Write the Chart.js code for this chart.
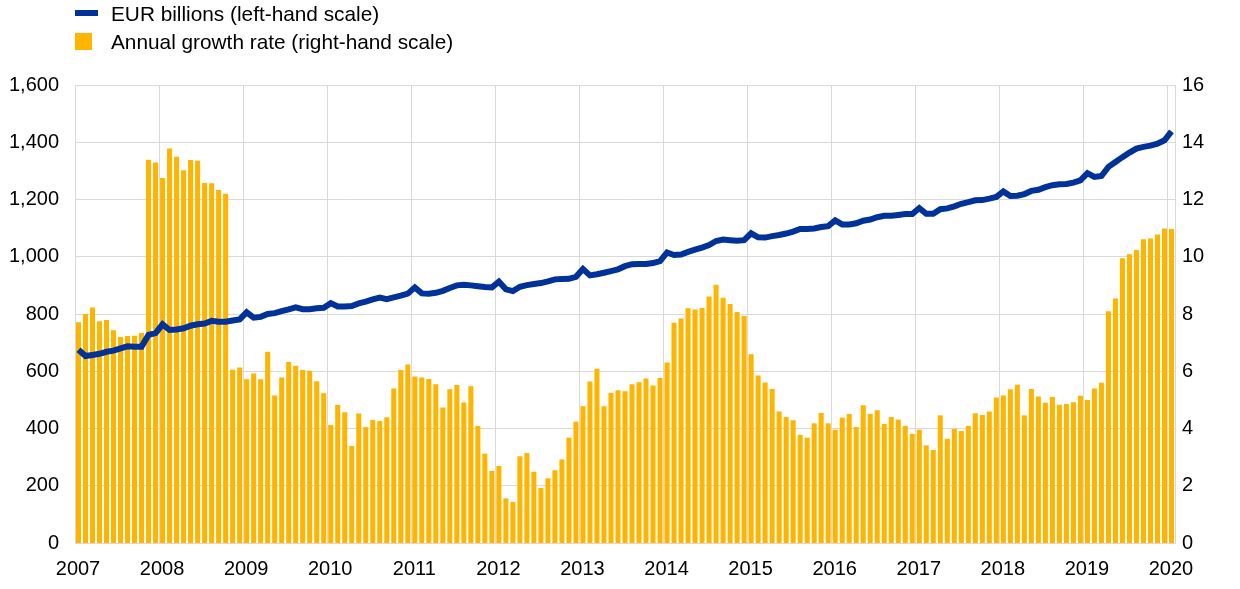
<!DOCTYPE html>
<html lang="en">
<head>
    <meta charset="UTF-8">
    <title>EUR billions and annual growth rate</title>
    <script src="https://cdn.jsdelivr.net/npm/chart.js"></script>
    <style>
        body { margin: 0; background: #fff; }
        .wrap { position: relative; width: 1240px; height: 589px; font-family: Arial, "Liberation Sans", sans-serif; }
        .legend { position: absolute; left: 75px; top: 0; font-size: 20.8px; color: #000; }
        .legend div { position: relative; height: 28px; line-height: 27px; padding-left: 36px; }
        .legend .line-key { position: absolute; left: 0; top: 10px; width: 23px; height: 6px; background: #003299; }
        .legend .box-key { position: absolute; left: 0; top: 5px; width: 17px; height: 17px; background: #ffb400; }
        canvas { position: absolute; left: 0; top: 0; }
    </style>
</head>
<body>
<div class="wrap">
    <canvas id="chart" width="1240" height="589"></canvas>
    <div class="legend">
        <div><span class="line-key"></span>EUR billions (left-hand scale)</div>
        <div><span class="box-key"></span>Annual growth rate (right-hand scale)</div>
    </div>
</div>

<script>
    // monthly observations Jan 2007 - Jan 2020
    const months = [];
    for (let y = 2007; y <= 2019; y++) {
        for (let m = 1; m <= 12; m++) months.push(y + '-' + String(m).padStart(2, '0'));
    }
    months.push('2020-01');

    const yearLabels = ['2007', '2008', '2009', '2010', '2011', '2012', '2013',
                        '2014', '2015', '2016', '2017', '2018', '2019', '2020'];

    // EUR billions (left-hand scale)
    const eurBillions = [
        675, 653, 657, 661, 668, 672, 680, 687, 686, 686, 727, 733,
        764, 744, 746, 750, 759, 764, 767, 776, 773, 773, 777, 781,
        806, 787, 790, 800, 803, 810, 816, 823, 817, 817, 820, 822,
        838, 826, 826, 828, 837, 843, 851, 857, 852, 858, 864, 871,
        893, 872, 871, 874, 881, 891, 900, 902, 900, 897, 894, 893,
        913, 886, 880, 895, 901, 905, 908, 914, 921, 922, 923, 930,
        957, 935, 939, 944, 950, 956, 967, 974, 975, 975, 978, 985,
        1015, 1006, 1008, 1017, 1025, 1032, 1041, 1055, 1060, 1058, 1056, 1058,
        1082, 1068, 1067, 1072, 1076, 1081, 1088, 1097, 1097, 1099, 1104, 1107,
        1127, 1113, 1113, 1117, 1126, 1130, 1138, 1143, 1143, 1146, 1149, 1149,
        1170, 1150, 1150, 1166, 1169, 1176, 1185, 1191, 1197, 1198, 1203, 1209,
        1228, 1212, 1213, 1219, 1230, 1234, 1243, 1250, 1253, 1254, 1259, 1267,
        1292, 1279, 1282, 1314, 1331, 1348, 1364, 1378, 1384, 1388, 1395, 1407,
        1438
    ];

    // annual growth rate, % (right-hand scale)
    const growthRate = [
        7.71, 8.00, 8.23, 7.75, 7.79, 7.43, 7.20, 7.23, 7.24, 7.34, 13.39, 13.29,
        12.75, 13.78, 13.49, 13.02, 13.38, 13.35, 12.58, 12.57, 12.33, 12.20, 6.05, 6.13,
        5.72, 5.92, 5.72, 6.68, 5.15, 5.78, 6.32, 6.19, 6.04, 6.02, 5.65, 5.23,
        4.12, 4.82, 4.57, 3.39, 4.52, 4.05, 4.30, 4.26, 4.39, 5.40, 6.04, 6.24,
        5.82, 5.78, 5.73, 5.55, 4.73, 5.37, 5.52, 4.91, 5.48, 4.09, 3.12, 2.52,
        2.69, 1.56, 1.43, 3.03, 3.14, 2.49, 1.92, 2.26, 2.54, 2.92, 3.68, 4.24,
        4.78, 5.64, 6.09, 4.78, 5.25, 5.34, 5.30, 5.55, 5.62, 5.75, 5.50, 5.76,
        6.31, 7.69, 7.84, 8.20, 8.16, 8.21, 8.61, 9.02, 8.57, 8.35, 8.07, 7.93,
        6.59, 5.85, 5.61, 5.38, 4.59, 4.40, 4.29, 3.78, 3.68, 4.18, 4.54, 4.18,
        3.96, 4.38, 4.51, 4.05, 4.81, 4.51, 4.64, 4.16, 4.40, 4.31, 4.09, 3.81,
        3.96, 3.41, 3.25, 4.46, 3.64, 3.99, 3.91, 4.09, 4.53, 4.47, 4.59, 5.08,
        5.15, 5.37, 5.53, 4.46, 5.38, 5.12, 4.90, 5.10, 4.83, 4.86, 4.92, 5.14,
        5.00, 5.40, 5.60, 8.10, 8.54, 9.95, 10.09, 10.24, 10.61, 10.64, 10.78, 10.99,
        10.97
    ];

    const gridColor = '#d9d9d9';
    const tickFont = { family: 'Arial, "Liberation Sans", sans-serif', size: 20 };

    new Chart(document.getElementById('chart'), {
        data: {
            labels: months,
            datasets: [{
                type: 'line',
                label: 'EUR billions (left-hand scale)',
                data: eurBillions,
                yAxisID: 'yLeft',
                borderColor: '#003299',
                borderWidth: 6,
                pointRadius: 0,
                tension: 0,
                order: 1
            }, {
                type: 'bar',
                label: 'Annual growth rate (right-hand scale)',
                data: growthRate,
                yAxisID: 'yRight',
                backgroundColor: '#ffb400',
                categoryPercentage: 1,
                barPercentage: 0.72,
                order: 2
            }]
        },
        options: {
            responsive: false,
            animation: false,
            devicePixelRatio: 1,
            layout: { padding: { top: 85, left: 0, right: 0, bottom: 0 } },
            plugins: { legend: { display: false }, tooltip: { enabled: false } },
            scales: {
                x: {
                    type: 'category',
                    display: false,
                    offset: true
                },
                years: {
                    type: 'linear',
                    position: 'bottom',
                    min: 0,
                    max: months.length,
                    afterFit: s => { s.height = 46; },
                    grid: { color: gridColor, drawTicks: false },
                    border: { color: gridColor },
                    ticks: {
                        stepSize: 12,
                        includeBounds: false,
                        autoSkip: false,
                        maxRotation: 0,
                        padding: 14,
                        labelOffset: 3,
                        color: '#000',
                        font: tickFont,
                        callback: v => yearLabels[v / 12]
                    }
                },
                yLeft: {
                    type: 'linear',
                    position: 'left',
                    min: 0,
                    max: 1600,
                    afterFit: s => { s.width = 75; },
                    grid: { color: gridColor, drawTicks: false },
                    border: { color: gridColor },
                    ticks: {
                        stepSize: 200,
                        padding: 16,
                        color: '#000',
                        font: tickFont,
                        callback: v => v.toLocaleString('en-US')
                    }
                },
                yRight: {
                    type: 'linear',
                    position: 'right',
                    min: 0,
                    max: 16,
                    afterFit: s => { s.width = 65; },
                    grid: { display: false, drawTicks: false },
                    border: { color: gridColor },
                    ticks: {
                        stepSize: 2,
                        padding: 7,
                        color: '#000',
                        font: tickFont
                    }
                }
            }
        }
    });
</script>
</body>
</html>
